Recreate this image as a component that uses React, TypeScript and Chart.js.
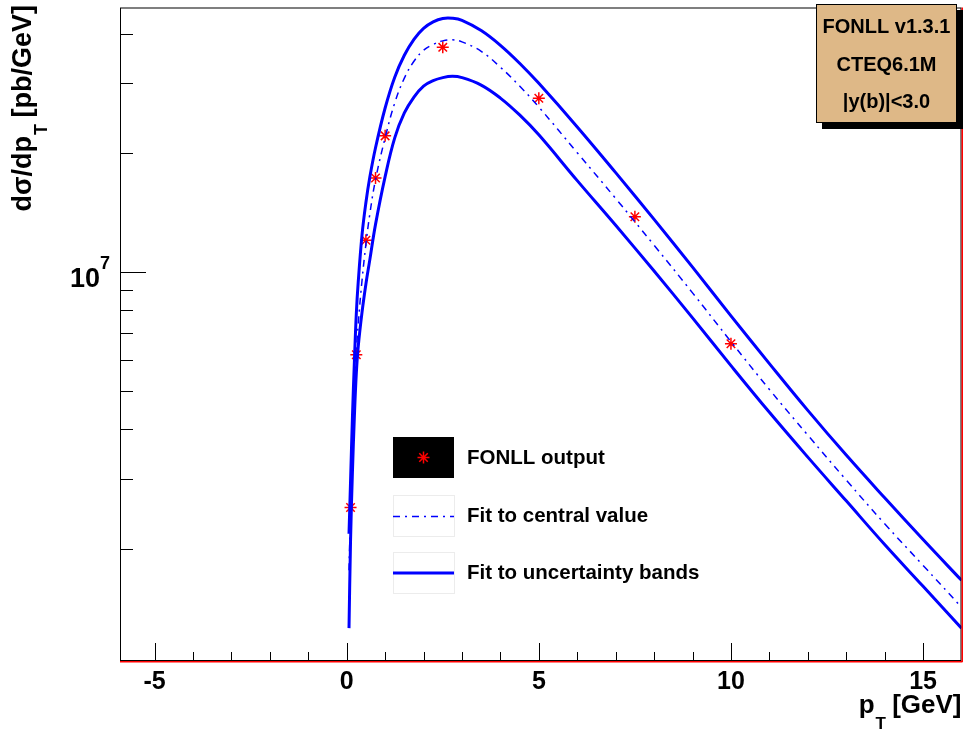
import React, { useEffect, useRef } from "react";
import { Chart, registerables } from "chart.js";

Chart.register(...registerables);

const FONT = '"Liberation Sans", Arial, Helvetica, sans-serif';

// FONLL output points
const pointX = [0.1, 0.25, 0.5, 0.75, 1, 2.5, 5, 7.5, 10];
const pointY = [2.54e6, 6.18e6, 1.204e7, 1.73e7, 2.21e7, 3.7e7, 2.75e7, 1.38e7, 6.59e6];

// sampled fit curves
const curveX = [0.06, 0.1, 0.15, 0.2, 0.25, 0.3, 0.4, 0.5, 0.6, 0.75, 1, 1.25, 1.5, 1.75, 2, 2.25, 2.5, 2.75, 3, 3.5, 4, 4.5, 5, 6, 7, 8, 9, 10, 11, 12, 13, 14, 15, 16];
const centralY = [1.761e6, 2.492e6, 3.738e6, 4.994e6, 6.22e6, 7.4e6, 9.55e6, 1.176e7, 1.399e7, 1.713e7, 2.185e7, 2.676e7, 3.093e7, 3.413e7, 3.637e7, 3.764e7, 3.842e7, 3.865e7, 3.82e7, 3.615e7, 3.296e7, 2.953e7, 2.614e7, 2.003e7, 1.535e7, 1.169e7, 8.86e6, 6.67e6, 5.05e6, 3.87e6, 2.98e6, 2.31e6, 1.813e6, 1.421e6];
const upperY = [2.18e6, 2.96e6, 4.319e6, 5.94e6, 7.84e6, 9.44e6, 1.246e7, 1.5e7, 1.734e7, 2.062e7, 2.599e7, 3.11e7, 3.533e7, 3.876e7, 4.131e7, 4.29e7, 4.377e7, 4.382e7, 4.33e7, 4.08e7, 3.744e7, 3.373e7, 3.0e7, 2.328e7, 1.784e7, 1.359e7, 1.029e7, 7.75e6, 5.87e6, 4.47e6, 3.445e6, 2.687e6, 2.107e6, 1.662e6];
const lowerY = [1.258e6, 2.095e6, 3.141e6, 4.319e6, 5.54e6, 6.477e6, 7.93e6, 9.33e6, 1.072e7, 1.32e7, 1.743e7, 2.185e7, 2.525e7, 2.771e7, 2.953e7, 3.048e7, 3.102e7, 3.125e7, 3.102e7, 2.97e7, 2.754e7, 2.496e7, 2.223e7, 1.703e7, 1.313e7, 1.006e7, 7.66e6, 5.8e6, 4.42e6, 3.405e6, 2.64e6, 2.047e6, 1.605e6, 1.258e6];

// axes
const xRange = [-5.9, 16];
const yRange = [1.039e6, 4.666e7];
const xMajorTicks = [-5, 0, 5, 10, 15];
const xTickLabels = ["-5", "0", "5", "10", "15"];
const xMinorTicks = [-4, -3, -2, -1, 1, 2, 3, 4, 6, 7, 8, 9, 11, 12, 13, 14];
const yMajorTicks = [1e7];
const yMinorTicks = [2e6, 3e6, 4e6, 5e6, 6e6, 7e6, 8e6, 9e6, 2e7, 3e7, 4e7];

const legendLabels = ["FONLL output", "Fit to central value", "Fit to uncertainty bands"];
const infoLines = ["FONLL v1.3.1", "CTEQ6.1M", "|y(b)|<3.0"];

const BLUE = "#0000ff";
const RED = "#ff0000";
const DASHDOT = [7, 5, 2, 5];

function drawStar(ctx: CanvasRenderingContext2D, x: number, y: number, r: number) {
  const d = r * Math.SQRT1_2;
  ctx.beginPath();
  ctx.moveTo(x - r, y); ctx.lineTo(x + r, y);
  ctx.moveTo(x, y - r); ctx.lineTo(x, y + r);
  ctx.moveTo(x - d, y - d); ctx.lineTo(x + d, y + d);
  ctx.moveTo(x - d, y + d); ctx.lineTo(x + d, y - d);
  ctx.stroke();
}

const rootPlugin = {
  id: "rootStyle",
  afterDatasetsDraw(chart: any) {
    const ctx: CanvasRenderingContext2D = chart.ctx;
    const { left, top, right, bottom } = chart.chartArea;
    const xs = chart.scales.x;
    const ys = chart.scales.y;
    ctx.save();

    // frame
    ctx.strokeStyle = "#000";
    ctx.lineWidth = 1;
    ctx.strokeRect(left + 0.5, top + 0.5, right - left - 1, bottom - top - 1);

    // ticks (inward)
    ctx.beginPath();
    for (const v of xMajorTicks) {
      const px = Math.round(xs.getPixelForValue(v)) + 0.5;
      ctx.moveTo(px, bottom); ctx.lineTo(px, bottom - 18);
    }
    for (const v of xMinorTicks) {
      const px = Math.round(xs.getPixelForValue(v)) + 0.5;
      ctx.moveTo(px, bottom); ctx.lineTo(px, bottom - 9);
    }
    for (const v of yMajorTicks) {
      const py = Math.round(ys.getPixelForValue(v)) + 0.5;
      ctx.moveTo(left, py); ctx.lineTo(left + 26, py);
    }
    for (const v of yMinorTicks) {
      const py = Math.round(ys.getPixelForValue(v)) + 0.5;
      ctx.moveTo(left, py); ctx.lineTo(left + 13, py);
    }
    ctx.stroke();

    // red axis overlays
    ctx.strokeStyle = RED;
    ctx.lineWidth = 1.5;
    ctx.beginPath();
    ctx.moveTo(left, bottom + 0.75); ctx.lineTo(right + 1, bottom + 0.75);
    ctx.moveTo(right + 0.75, top); ctx.lineTo(right + 0.75, bottom + 1);
    ctx.stroke();

    // x tick labels
    ctx.fillStyle = "#000";
    ctx.font = `bold 25px ${FONT}`;
    ctx.textAlign = "center";
    ctx.textBaseline = "alphabetic";
    xMajorTicks.forEach((v, i) => {
      ctx.fillText(xTickLabels[i], xs.getPixelForValue(v), 689);
    });

    // y tick label 10^7
    const y7 = ys.getPixelForValue(1e7);
    ctx.textAlign = "right";
    ctx.font = `bold 18px ${FONT}`;
    const w7 = ctx.measureText("7").width;
    ctx.fillText("7", 110, y7 - 3);
    ctx.font = `bold 27px ${FONT}`;
    ctx.fillText("10", 110 - w7, y7 + 15);

    // x axis title: p_T [GeV]
    ctx.textAlign = "left";
    ctx.font = `bold 26px ${FONT}`;
    const wp = ctx.measureText("p").width;
    const wr = ctx.measureText(" [GeV]").width;
    ctx.font = `bold 17px ${FONT}`;
    const wt = ctx.measureText("T").width;
    const xStart = right - (wp + wt + wr);
    ctx.font = `bold 26px ${FONT}`;
    ctx.fillText("p", xStart, 713);
    ctx.fillText(" [GeV]", xStart + wp + wt, 713);
    ctx.font = `bold 17px ${FONT}`;
    ctx.fillText("T", xStart + wp + 1, 729);

    // y axis title: dσ/dp_T [pb/GeV]
    ctx.save();
    ctx.translate(31, 5);
    ctx.rotate(-Math.PI / 2);
    ctx.font = `bold 27px ${FONT}`;
    const w1 = ctx.measureText("dσ/dp").width;
    const w3 = ctx.measureText(" [pb/GeV]").width;
    ctx.font = `bold 18px ${FONT}`;
    const w2 = ctx.measureText("T").width;
    const start = -(w1 + w2 + w3);
    ctx.font = `bold 27px ${FONT}`;
    ctx.fillText("dσ/dp", start, 0);
    ctx.fillText(" [pb/GeV]", start + w1 + w2, 0);
    ctx.font = `bold 18px ${FONT}`;
    ctx.fillText("T", start + w1 + 1, 16);
    ctx.restore();

    // legend
    const lx = 393, lw = 61;
    const rows = [
      { y: 437, h: 41 },
      { y: 495, h: 41 },
      { y: 552, h: 41 },
    ];
    ctx.fillStyle = "#000";
    ctx.fillRect(lx, rows[0].y, lw, rows[0].h);
    ctx.strokeStyle = RED;
    ctx.lineWidth = 1.5;
    drawStar(ctx, lx + lw / 2, rows[0].y + rows[0].h / 2, 6);
    ctx.strokeStyle = "#ececec";
    ctx.lineWidth = 1;
    ctx.strokeRect(lx + 0.5, rows[1].y + 0.5, lw, rows[1].h);
    ctx.strokeRect(lx + 0.5, rows[2].y + 0.5, lw, rows[2].h);
    ctx.strokeStyle = BLUE;
    ctx.lineWidth = 1.5;
    ctx.setLineDash(DASHDOT);
    ctx.beginPath();
    ctx.moveTo(lx, rows[1].y + 21.5); ctx.lineTo(lx + lw, rows[1].y + 21.5);
    ctx.stroke();
    ctx.setLineDash([]);
    ctx.lineWidth = 3;
    ctx.beginPath();
    ctx.moveTo(lx, rows[2].y + 21); ctx.lineTo(lx + lw, rows[2].y + 21);
    ctx.stroke();
    ctx.fillStyle = "#000";
    ctx.font = `bold 20.5px ${FONT}`;
    ctx.textAlign = "left";
    ctx.textBaseline = "middle";
    rows.forEach((r, i) => {
      ctx.fillText(legendLabels[i], 467, r.y + r.h / 2 + 1);
    });

    // info pave (with shadow)
    const bx = 816, by = 4, bw = 141, bh = 119, sh = 6;
    ctx.fillStyle = "#000";
    ctx.fillRect(bx + sh, by + sh, bw, bh);
    ctx.fillStyle = "#deb887";
    ctx.fillRect(bx, by, bw, bh);
    ctx.strokeStyle = "#000";
    ctx.lineWidth = 1;
    ctx.strokeRect(bx + 0.5, by + 0.5, bw - 1, bh - 1);
    ctx.fillStyle = "#000";
    ctx.font = `bold 20px ${FONT}`;
    ctx.textAlign = "center";
    ctx.textBaseline = "middle";
    const ly = [27, 65, 102];
    infoLines.forEach((t, i) => ctx.fillText(t, bx + bw / 2, ly[i]));

    ctx.restore();
  },
};

export default function App() {
  const ref = useRef<HTMLCanvasElement>(null);
  useEffect(() => {
    document.body.style.margin = "0";
    const canvas = ref.current!;
    const lineDs = (label: string, ys: number[], width: number, dash: number[] = []) => ({
      label,
      data: curveX.map((x, i) => ({ x, y: ys[i] })),
      showLine: true,
      borderColor: BLUE,
      borderWidth: width,
      borderDash: dash,
      pointRadius: 0,
      tension: 0.4,
    });
    const chart = new Chart(canvas, {
      type: "scatter",
      data: {
        datasets: [
          lineDs("upper", upperY, 3),
          lineDs("lower", lowerY, 3),
          lineDs("central", centralY, 1.5, DASHDOT),
          {
            label: "FONLL output",
            data: pointX.map((x, i) => ({ x, y: pointY[i] })),
            showLine: false,
            pointStyle: "star",
            pointRadius: 6,
            borderColor: RED,
            backgroundColor: RED,
            pointBorderWidth: 1.5,
          },
        ],
      } as any,
      options: {
        responsive: false,
        animation: false,
        devicePixelRatio: 1,
        layout: { padding: { left: 120, top: 4, right: 6, bottom: 72 } },
        plugins: { legend: { display: false }, tooltip: { enabled: false } },
        scales: {
          x: { type: "linear", min: xRange[0], max: xRange[1], display: false },
          y: { type: "logarithmic", min: yRange[0], max: yRange[1], display: false },
        },
      } as any,
      plugins: [rootPlugin],
    });
    return () => chart.destroy();
  }, []);
  return (
    <div style={{ width: 969, height: 733, background: "#fff" }}>
      <canvas ref={ref} width={969} height={733} style={{ display: "block", width: 969, height: 733 }} />
    </div>
  );
}
